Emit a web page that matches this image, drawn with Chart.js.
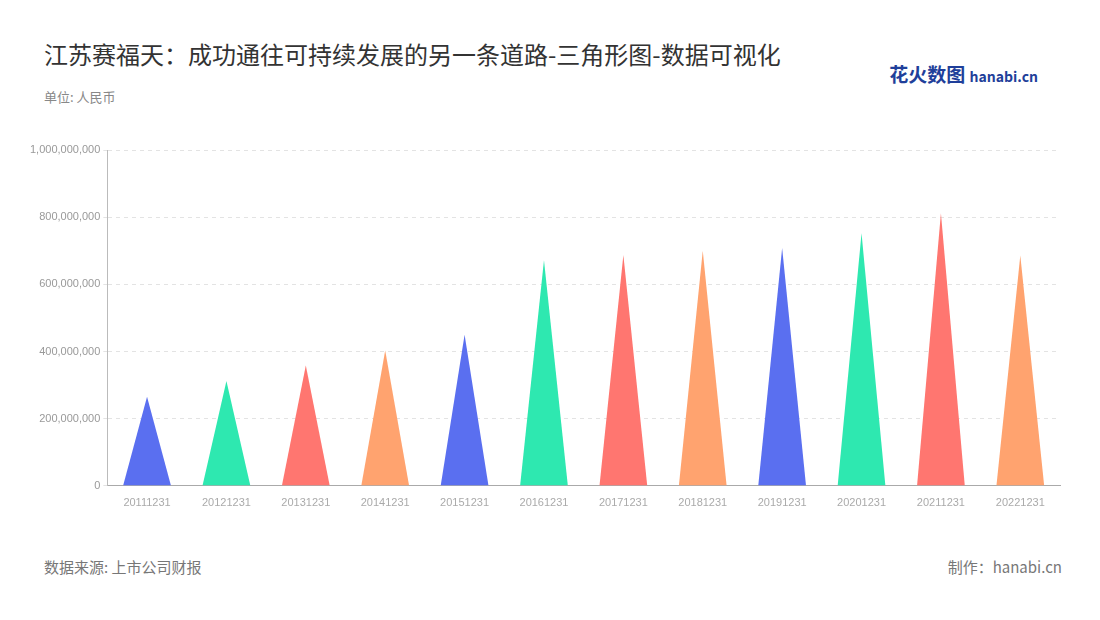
<!DOCTYPE html>
<html lang="zh">
<head>
<meta charset="UTF-8">
<title>三角形图</title>
<style>
  body { margin: 0; background: #fff; font-family: "Noto Sans CJK SC", "Noto Sans", sans-serif; }
  .wrap { position: relative; width: 1100px; height: 620px; }
  .title { position: absolute; left: 44px; top: 36px; font-size: 24px; color: #333; }
  .unit { position: absolute; left: 44px; top: 87px; font-size: 13px; color: #888; }
  .logo { position: absolute; right: 62px; top: 60px; font-size: 19px; font-weight: bold; color: #1f3f9a; }
  .logo small { font-size: 14px; color: #1f3f9a; }
  .src { position: absolute; left: 44px; top: 556px; font-size: 15px; color: #777; }
  .made { position: absolute; right: 38px; top: 556px; font-size: 15px; color: #777; }
  #box { position: absolute; left: 0; top: 138px; width: 1080px; height: 375px; }
</style>
</head>
<body>
<div class="wrap">
  <div class="title">江苏赛福天：成功通往可持续发展的另一条道路-三角形图-数据可视化</div>
  <div class="unit">单位: 人民币</div>
  <div class="logo">花火数图 <small>hanabi.cn</small></div>
  <div class="src">数据来源: 上市公司财报</div>
  <div class="made">制作：hanabi.cn</div>
  <div id="box"><canvas id="c"></canvas></div>
</div>
<script src="https://cdn.jsdelivr.net/npm/chart.js"></script>
<script>
  const years = ['20111231','20121231','20131231','20141231','20151231','20161231','20171231','20181231','20191231','20201231','20211231','20221231'];
  const revenue = [265000000, 312000000, 358000000, 403000000, 450000000, 672000000, 687000000, 700000000, 708000000, 752000000, 812000000, 686000000];
  const palette = ['#5a6ff0', '#2ee8b0', '#ff7670', '#ffa36f'];

  // draw each bar as a triangle using the bar element geometry
  const triangles = {
    id: 'triangles',
    afterDatasetsDraw(chart) {
      const ctx = chart.ctx;
      chart.getDatasetMeta(0).data.forEach((bar, i) => {
        const w = bar.width / 2;
        ctx.save();
        ctx.fillStyle = palette[i % palette.length];
        ctx.beginPath();
        ctx.moveTo(bar.x - w, bar.base);
        ctx.lineTo(bar.x, bar.y);
        ctx.lineTo(bar.x + w, bar.base);
        ctx.closePath();
        ctx.fill();
        ctx.restore();
      });
    }
  };

  new Chart(document.getElementById('c'), {
    type: 'bar',
    data: {
      labels: years,
      datasets: [{ data: revenue, backgroundColor: 'rgba(0,0,0,0)', categoryPercentage: 0.6, barPercentage: 1 }]
    },
    options: {
      responsive: true,
      maintainAspectRatio: false,
      animation: false,
      layout: { padding: { top: 12, left: 27, right: 20 } },
      plugins: { legend: { display: false }, tooltip: { enabled: false } },
      scales: {
        x: {
          grid: { display: false },
          border: { color: '#aaa' },
          ticks: { color: '#aaa', font: { size: 11 }, maxRotation: 0 }
        },
        y: {
          min: 0, max: 1000000000,
          ticks: { stepSize: 200000000, color: '#999', font: { size: 11 },
                   callback: v => v.toLocaleString('en-US') },
          grid: { color: '#e3e3e3', tickLength: 4 },
          border: { color: '#bbb', dash: [4, 4] }
        }
      }
    },
    plugins: [triangles]
  });
</script>
</body>
</html>
